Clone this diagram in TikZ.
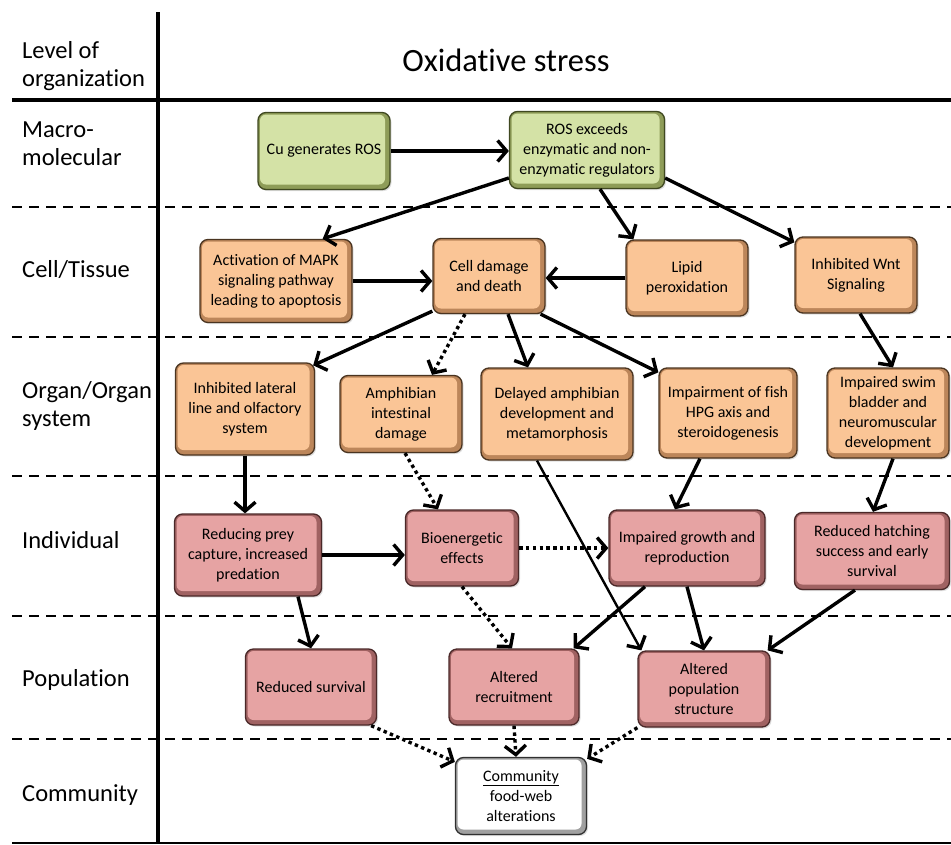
\documentclass[tikz,border=0pt]{standalone}
\usepackage{fontspec}
\setmainfont{Carlito}[Ligatures=NoCommon]
\usetikzlibrary{arrows.meta,shadows}
\definecolor{gbase}{HTML}{D4E2A6}
\definecolor{gedge}{HTML}{8E9C58}
\definecolor{gdark}{HTML}{3F4820}
\definecolor{obase}{HTML}{FAC596}
\definecolor{oedge}{HTML}{BC865A}
\definecolor{odark}{HTML}{4A3420}
\definecolor{rbase}{HTML}{E6A3A3}
\definecolor{redge}{HTML}{A06262}
\definecolor{rdark}{HTML}{4A2828}
\definecolor{wbase}{HTML}{FFFFFF}
\definecolor{wedge}{HTML}{A0A0A0}
\definecolor{wdark}{HTML}{303030}
\tikzset{
  box/.style={rounded corners=8pt, draw=#1dark, line width=1.3pt, fill=#1edge,
    align=center, inner sep=2pt, font=\fontsize{16}{20}\selectfont,
    drop shadow={shadow xshift=1.5pt, shadow yshift=-1.5pt, opacity=0.25},
    path picture={\fill[#1base, rounded corners=6pt]
      ([shift={(2pt,-2pt)}]path picture bounding box.north west) rectangle
      ([shift={(-5pt,5pt)}]path picture bounding box.south east);}},
  arr/.style={line width=3.4pt, -{Straight Barb[length=9pt,width=21pt,line width=3.4pt]}},
  dotarr/.style={arr, dash pattern=on 3.4pt off 3.4pt},
  lvl/.style={anchor=west, align=left, font=\fontsize{24.5}{28}\selectfont, inner sep=0pt},
  sep/.style={line width=2.2pt, dash pattern=on 10pt off 7pt},
}
\begin{document}
\begin{tikzpicture}[x=1pt,y=-1pt]
\useasboundingbox (0,0) rectangle (951,844);
% frame lines
\draw[line width=3.5pt] (158,12) -- (158,844);
\draw[line width=4pt] (12,100) -- (951,100);
\draw[line width=2pt] (12,843) -- (951,843);
\foreach \yy in {207,337,476,616,739} \draw[sep] (12,\yy) -- (951,\yy);
% level labels
\node[lvl] (l0) at (22,66) {Level of\\organization};
\node[lvl] (l1) at (22,144) {Macro-\\molecular};
\node[lvl] (l2) at (22,270) {Cell/Tissue};
\node[lvl] (l3) at (22,406) {Organ/Organ\\system};
\node[lvl] (l4) at (22,540) {Individual};
\node[lvl] (l5) at (22,680) {Population};
\node[lvl] (l6) at (22,795) {Community};
\node[font=\fontsize{32.5}{36}\selectfont] (title) at (506,60) {Oxidative stress};
% boxes
\node[box=g, minimum width=132pt, minimum height=77pt] (cu) at (324,151) {Cu generates ROS};
\node[box=g, minimum width=155pt, minimum height=77pt] (ros) at (587,150) {ROS exceeds\\enzymatic and non-\\enzymatic regulators};
\node[box=o, minimum width=152pt, minimum height=83pt] (mapk) at (276,281) {Activation of MAPK\\signaling pathway\\leading to apoptosis};
\node[box=o, minimum width=112pt, minimum height=75pt] (cell) at (489,276) {Cell damage\\and death};
\node[box=o, minimum width=122pt, minimum height=76pt] (lipid) at (687,278) {Lipid\\peroxidation};
\node[box=o, minimum width=122pt, minimum height=76pt] (wnt) at (856,275) {Inhibited Wnt\\Signaling};
\node[box=o, minimum width=139pt, minimum height=92pt] (lateral) at (245,409) {Inhibited lateral\\line and olfactory\\system};
\node[box=o, minimum width=122pt, minimum height=77pt] (amph) at (401,414) {Amphibian\\intestinal\\damage};
\node[box=o, minimum width=152pt, minimum height=92pt] (delayed) at (557,414) {Delayed amphibian\\development and\\metamorphosis};
\node[box=o, minimum width=138pt, minimum height=90pt] (fish) at (728,413) {Impairment of fish\\HPG axis and\\steroidogenesis};
\node[box=o, minimum width=122pt, minimum height=90pt] (swim) at (888,413) {Impaired swim\\bladder and\\neuromuscular\\development};
\node[box=r, minimum width=147pt, minimum height=82pt] (prey) at (248,555) {Reducing prey\\capture, increased\\predation};
\node[box=r, minimum width=113pt, minimum height=76pt] (bio) at (462,548) {Bioenergetic\\effects};
\node[box=r, minimum width=156pt, minimum height=76pt] (growth) at (687,548) {Impaired growth and\\reproduction};
\node[box=r, minimum width=155pt, minimum height=77pt] (hatch) at (872,551) {Reduced hatching\\success and early\\survival};
\node[box=r, minimum width=131pt, minimum height=76pt] (surv) at (311,687) {Reduced survival};
\node[box=r, minimum width=130pt, minimum height=76pt] (recruit) at (514,687) {Altered\\recruitment};
\node[box=r, minimum width=132pt, minimum height=76pt] (popstruct) at (704,689) {Altered\\population\\structure};
\node[box=w, minimum width=131pt, minimum height=77pt] (comm) at (521,796) {\underline{Community}\\food-web\\alterations};
% connectors
\draw[arr] (cu.east) -- (cu.east -| ros.west);
\draw[arr] ([yshift=-28pt]ros.west) -- ([xshift=-30pt]mapk.north east);
\draw[arr] ([xshift=13pt]ros.south) -- ([xshift=8pt]lipid.north west);
\draw[arr] ([yshift=-28pt]ros.east) -- ([yshift=-6pt]wnt.north west);
\draw[arr] (mapk.east) -- (mapk.east -| cell.west);
\draw[arr] (lipid.west) -- (lipid.west -| cell.east);
\draw[arr] ([yshift=3pt]cell.south west) -- ([shift={(-2pt,-3pt)}]lateral.north east);
\draw[dotarr] ([xshift=-24pt]cell.south) -- ([xshift=31pt]amph.north);
\draw[arr] ([xshift=19pt]cell.south) -- ([xshift=-29pt]delayed.north);
\draw[arr] ([xshift=-5pt]cell.south east) -- ([yshift=-5pt]fish.north west);
\draw[arr] ([xshift=4pt]wnt.south) -- ([xshift=5pt]swim.north);
\draw[arr] (lateral.south) -- (lateral.south |- prey.north);
\draw[dotarr] ([xshift=4pt]amph.south) -- ([xshift=-24pt]bio.north);
\draw[arr, line width=2.4pt] ([xshift=-20pt]delayed.south) -- ([xshift=4pt]popstruct.north west);
\draw[arr] ([xshift=-28pt]fish.south) -- ([xshift=-12pt]growth.north);
\draw[arr] ([xshift=5pt]swim.south) -- ([xshift=1pt]hatch.north);
\draw[arr] (prey.east) -- (prey.east -| bio.west);
\draw[dotarr] (bio.east) -- (bio.east -| growth.west);
\draw[arr] ([xshift=50pt]prey.south) -- (surv.north);
\draw[dotarr] (bio.south) -- ([xshift=-2pt]recruit.north);
\draw[arr] ([xshift=-42pt]growth.south) -- ([xshift=-6pt]recruit.north east);
\draw[arr] (growth.south) -- (popstruct.north);
\draw[arr] ([xshift=-17pt]hatch.south) -- ([xshift=-3pt]popstruct.north east);
\draw[dotarr] ([xshift=-6pt]surv.south east) -- ([yshift=-5pt]comm.north west);
\draw[dotarr] (recruit.south) -- ([xshift=-5pt]comm.north);
\draw[dotarr] (popstruct.south west) -- ([yshift=-2pt]comm.north east);
\end{tikzpicture}
\end{document}
